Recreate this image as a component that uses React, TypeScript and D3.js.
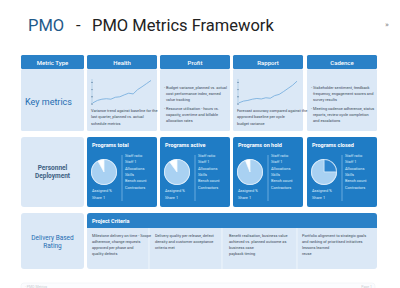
import React from "react";
import * as d3 from "d3";

const headers = ["Metric Type", "Health", "Profit", "Rapport", "Cadence"];
const rowLabels = [["Key metrics"], ["Personnel", "Deployment"], ["Delivery Based", "Rating"]];
const trendA = [0.5, 1.5, 2, 2.2, 2, 2.8, 3, 3.8, 4.5, 4.2, 6, 7.2, 8.5, 9.8];
const trendB = [0.5, 1.2, 1.5, 2, 2.3, 2.1, 2.6, 2.4, 3.5, 4, 5.2, 6.5, 7.8, 9.5];
const trendNotes = [
  ["Variance trend against baseline for the", "last quarter, planned vs. actual", "schedule metrics"],
  ["Forecast accuracy compared against the", "approved baseline per cycle", "budget variance"],
];
const bulletsA = [
  ["Budget variance, planned vs. actual", "cost performance index, earned", "value tracking"],
  ["Resource utilisation - hours vs.", "capacity, overtime and billable", "allocation rates"],
];
const bulletsB = [
  ["Stakeholder sentiment, feedback", "frequency, engagement scores and", "survey results"],
  ["Meeting cadence adherence, status", "reports, review cycle completion", "and escalations"],
];
const pieTitles = ["Programs total", "Programs active", "Programs on hold", "Programs closed"];
const pieShares = [
  [92, 8],
  [90, 10],
  [94, 6],
  [25, 75],
];
const pieNotes = ["Staff ratio", "Staff 1", "Allocations", "Skills", "Bench count", "Contractors"];
const pieFoot = ["Assigned %", "Share 1"];
const criteriaTitle = "Project Criteria";
const criteriaText = [
  ["Milestone delivery on time - Scope", "adherence, change requests", "approved per phase and", "quality defects"],
  ["Delivery quality per release, defect", "density and customer acceptance", "criteria met"],
  ["Benefit realisation, business value", "achieved vs. planned outcome as", "business case", "payback timing"],
  ["Portfolio alignment to strategic goals", "and ranking of prioritised initiatives", "lessons learned", "reuse"],
];
const footerLeft = "- PMO Metrics";
const footerRight = "Page 1";

const colX = [21, 87, 160, 233, 307];
const colW = [63, 70, 70, 70, 70];
const LIGHT = "#dbe8f6";
const BLUE = "#2a81c7";
const PANEL = "#1f7cc5";
const FONT = "Roboto, 'Liberation Sans', Arial, sans-serif";

function Trend({ x, data, notes }: { x: number; data: number[]; notes: string[] }) {
  const xs = d3.scaleLinear().domain([0, data.length - 1]).range([x + 6, x + 64]);
  const ys = d3.scaleLinear().domain([0, 10]).range([104, 80]);
  const line = d3.line<number>().x((_, i) => xs(i)).y((d) => ys(d));
  return (
    <g>
      <line x1={x + 5} x2={x + 5} y1={79} y2={105} stroke="#9cbfe0" strokeWidth={0.6} />
      {[0, 3, 6, 9].map((t) => (
        <circle key={t} cx={x + 5} cy={ys(t)} r={0.7} fill="#5c7f9f" />
      ))}
      <path d={line(data) || ""} fill="none" stroke="#6fa9dc" strokeWidth={0.8} />
      {notes.map((n, i) => (
        <text key={i} x={x + 4} y={112 + i * 6.3} fontSize={3.9} fill="#3b4a5a" fontFamily={FONT}>
          {n}
        </text>
      ))}
    </g>
  );
}

function Bullets({ x, items }: { x: number; items: string[][] }) {
  return (
    <g fontFamily={FONT} fontSize={3.9} fill="#3b4a5a">
      {items.map((it, k) =>
        it.map((s, i) => (
          <text key={k + "-" + i} x={x + (i === 0 ? 4 : 6)} y={(k === 0 ? 89 : 110) + i * 6}>
            {i === 0 ? "- " + s : s}
          </text>
        ))
      )}
    </g>
  );
}

export default function App() {
  const pieGen = d3.pie<number>().sort(null).value((d) => d);
  const arc = d3.arc<d3.PieArcDatum<number>>().innerRadius(0).outerRadius(12.5);
  return (
    <svg width={400} height={288} style={{ position: "absolute", left: 0, top: 0 }}>
      <rect width={400} height={288} fill="#ffffff" />
      <text x={28} y={31} fontSize={16.5} fontFamily={FONT} fill="#1f5a8a">
        PMO
      </text>
      <text x={76} y={31} fontSize={16.5} fontFamily={FONT} fill="#222">
        -
      </text>
      <text x={92} y={31} fontSize={16.5} fontFamily={FONT} fill="#222">
        PMO Metrics Framework
      </text>
      <text x={385} y={27} fontSize={8} fontFamily={FONT} fill="#888">
        »
      </text>

      {headers.map((h, i) => (
        <g key={h}>
          <rect x={colX[i]} y={55} width={colW[i]} height={14} rx={1.5} fill={BLUE} />
          <text x={colX[i] + colW[i] / 2} y={64.5} textAnchor="middle" fontSize={6} fontWeight={500} fill="#fff" fontFamily={FONT}>
            {h}
          </text>
        </g>
      ))}

      {headers.map((h, i) => (
        <rect key={"r1" + i} x={colX[i]} y={69} width={colW[i]} height={62} fill={LIGHT} rx={1.5} />
      ))}
      <text x={25} y={105} fontSize={9} fill="#1f6db2" fontFamily={FONT}>
        {rowLabels[0][0]}
      </text>
      <Trend x={colX[1]} data={trendA} notes={trendNotes[0]} />
      <Bullets x={colX[2]} items={bulletsA} />
      <Trend x={colX[3]} data={trendB} notes={trendNotes[1]} />
      <Bullets x={colX[4]} items={bulletsB} />

      <rect x={colX[0]} y={137} width={colW[0]} height={70} rx={3} fill={LIGHT} />
      {rowLabels[1].map((s, i) => (
        <text key={s} x={colX[0] + colW[0] / 2} y={170 + i * 8} textAnchor="middle" fontSize={6.5} fontWeight={700} fill="#3d5f82" fontFamily={FONT}>
          {s}
        </text>
      ))}
      {pieTitles.map((t, i) => {
        const x0 = colX[i + 1];
        const cx = x0 + 17;
        const cy = 172;
        const slices = pieGen(pieShares[i]);
        const fills = i === 3 ? ["#2f86cf", "#a9d1f2"] : ["#a9d1f2", "#ffffff"];
        return (
          <g key={t} fontFamily={FONT}>
            <rect x={x0} y={137} width={colW[i + 1]} height={70} rx={2} fill={PANEL} />
            <text x={x0 + 5} y={147} fontSize={5.5} fontWeight={700} fill="#fff">
              {t}
            </text>
            <circle cx={cx} cy={cy} r={13} fill="#e8f3fd" />
            {slices.map((s, k) => (
              <path key={k} d={arc(s) || ""} transform={`translate(${cx},${cy})`} fill={fills[k]} stroke="#eaf4fd" strokeWidth={0.5} />
            ))}
            <line x1={x0 + 35} x2={x0 + 35} y1={155} y2={201} stroke="#9ccaf0" strokeWidth={0.6} />
            {pieNotes.map((n, k) => (
              <text key={n} x={x0 + 38} y={157 + k * 6.3} fontSize={3.9} fill="#dcedfb">
                {n}
              </text>
            ))}
            {pieFoot.map((n, k) => (
              <text key={n} x={x0 + 5} y={192 + k * 6.5} fontSize={3.9} fill="#dcedfb">
                {n}
              </text>
            ))}
          </g>
        );
      })}

      <rect x={colX[0]} y={213} width={colW[0]} height={56} rx={3} fill={LIGHT} />
      {rowLabels[2].map((s, i) => (
        <text key={s} x={colX[0] + colW[0] / 2} y={240 + i * 8} textAnchor="middle" fontSize={6.5} fill="#1f6db2" fontFamily={FONT}>
          {s}
        </text>
      ))}
      <rect x={colX[1]} y={213} width={377 - colX[1]} height={56} rx={3} fill={LIGHT} />
      <path d={`M${colX[1]},228 V216 a3,3 0 0 1 3,-3 H374 a3,3 0 0 1 3,3 V228 Z`} fill={BLUE} />
      <text x={colX[1] + 5} y={223} fontSize={5.5} fontWeight={700} fill="#fff" fontFamily={FONT}>
        {criteriaTitle}
      </text>
      {[149, 222, 297].map((x) => (
        <line key={x} x1={x} x2={x} y1={228} y2={269} stroke="#f4f9fe" strokeWidth={0.8} />
      ))}
      {criteriaText.map((lines, k) => {
        const xs = [92, 155, 229, 302][k];
        return lines.map((s, i) => (
          <text key={k + "-" + i} x={xs} y={237 + i * 6} fontSize={3.9} fill="#3b4a5a" fontFamily={FONT}>
            {s}
          </text>
        ));
      })}

      <rect x={21} y={283} width={354} height={20} rx={3} fill="#fbfcfe" stroke="#eef1f5" strokeWidth={0.6} />
      <text x={25} y={287.5} fontSize={3.5} fill="#c8ccd2" fontFamily={FONT}>
        {footerLeft}
      </text>
      <text x={372} y={287.5} fontSize={3.5} textAnchor="end" fill="#c8ccd2" fontFamily={FONT}>
        {footerRight}
      </text>
    </svg>
  );
}
